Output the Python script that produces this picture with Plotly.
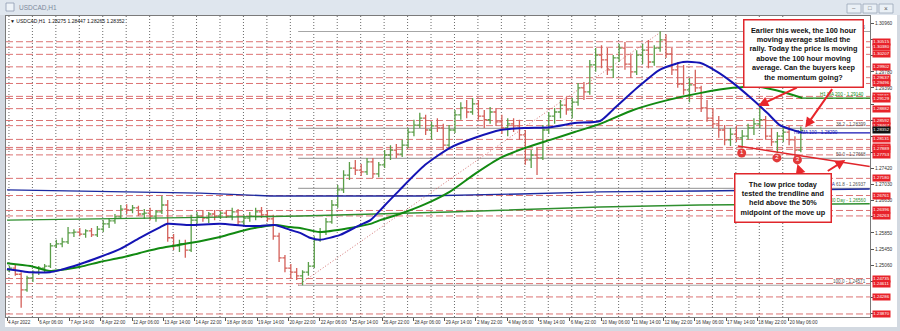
import plotly.graph_objects as go

# ---------------- DATA ----------------
# 6-hour OHLC blocks of USDCAD H1, block k covers H1 bars 6k..6k+5 (bar 0 = 4 Apr 22:00)
candle_open = [1.2494,1.2499,1.2484,1.2446,1.2475,1.2489,1.2499,1.2504,1.2553,1.2558,
 1.2563,1.2585,1.2587,1.2582,1.2590,1.2580,1.2594,1.2607,1.2614,1.2624,
 1.2643,1.2641,1.2646,1.2631,1.2633,1.2626,1.2636,1.2653,1.2573,1.2553,
 1.2558,1.2543,1.2616,1.2626,1.2621,1.2631,1.2626,1.2633,1.2626,1.2636,
 1.2612,1.2621,1.2626,1.2636,1.2629,1.2619,1.2577,1.2524,1.2499,1.2489,
 1.2480,1.2489,1.2504,1.2568,1.2587,1.2612,1.2653,1.2690,1.2726,1.2743,
 1.2738,1.2734,1.2758,1.2729,1.2751,1.2775,1.2787,1.2777,1.2799,1.2831,
 1.2848,1.2865,1.2836,1.2846,1.2841,1.2799,1.2836,1.2873,1.2890,1.2880,
 1.2900,1.2870,1.2861,1.2880,1.2856,1.2841,1.2851,1.2846,1.2824,1.2763,
 1.2775,1.2768,1.2836,1.2870,1.2880,1.2897,1.2885,1.2904,1.2939,1.2929,
 1.2995,1.3019,1.3007,1.2983,1.3012,1.3036,1.2997,1.2978,1.3019,1.3031,
 1.3002,1.3036,1.3056,1.3022,1.2983,1.2948,1.2934,1.2946,1.2939,1.2890,
 1.2865,1.2851,1.2836,1.2812,1.2826,1.2817,1.2821,1.2841,1.2851,1.2861,
 1.2821,1.2807,1.2821,1.2831,1.2812,1.2787]
candle_high = [1.2504,1.2507,1.2489,1.2480,1.2494,1.2504,1.2509,1.2560,1.2568,1.2573,
 1.2599,1.2594,1.2597,1.2594,1.2597,1.2602,1.2616,1.2621,1.2631,1.2653,
 1.2655,1.2653,1.2651,1.2643,1.2646,1.2641,1.2675,1.2665,1.2582,1.2568,
 1.2568,1.2629,1.2636,1.2641,1.2636,1.2641,1.2638,1.2641,1.2646,1.2643,
 1.2629,1.2636,1.2646,1.2648,1.2641,1.2629,1.2585,1.2531,1.2509,1.2499,
 1.2494,1.2514,1.2577,1.2597,1.2621,1.2665,1.2702,1.2738,1.2758,1.2763,
 1.2753,1.2768,1.2768,1.2758,1.2787,1.2799,1.2802,1.2812,1.2841,1.2861,
 1.2878,1.2873,1.2856,1.2865,1.2851,1.2848,1.2885,1.2904,1.2909,1.2914,
 1.2909,1.2885,1.2892,1.2890,1.2873,1.2865,1.2865,1.2861,1.2836,1.2787,
 1.2792,1.2848,1.2880,1.2890,1.2909,1.2916,1.2914,1.2951,1.2953,1.3007,
 1.3036,1.3043,1.3036,1.3019,1.3046,1.3051,1.3019,1.3031,1.3046,1.3056,
 1.3043,1.3077,1.3070,1.3036,1.3002,1.2995,1.2963,1.2983,1.2944,1.2909,
 1.2890,1.2870,1.2848,1.2841,1.2846,1.2836,1.2851,1.2865,1.2900,1.2870,
 1.2841,1.2831,1.2841,1.2846,1.2821,1.28447]
candle_low = [1.2489,1.2480,1.2402,1.2441,1.2465,1.2482,1.2489,1.2499,1.2548,1.2550,
 1.2558,1.2575,1.2577,1.2573,1.2575,1.2575,1.2587,1.2597,1.2607,1.2619,
 1.2631,1.2633,1.2626,1.2619,1.2616,1.2612,1.2631,1.2563,1.2543,1.2538,
 1.2524,1.2538,1.2607,1.2612,1.2609,1.2616,1.2619,1.2621,1.2616,1.2604,
 1.2602,1.2612,1.2616,1.2621,1.2612,1.2568,1.2514,1.2489,1.2475,1.2470,
 1.2457,1.2480,1.2499,1.2563,1.2580,1.2607,1.2646,1.2682,1.2714,1.2726,
 1.2724,1.2726,1.2719,1.2721,1.2743,1.2763,1.2768,1.2770,1.2792,1.2821,
 1.2841,1.2824,1.2812,1.2831,1.2787,1.2792,1.2829,1.2861,1.2865,1.2873,
 1.2861,1.2841,1.2851,1.2846,1.2826,1.2821,1.2831,1.2812,1.2751,1.2743,
 1.2726,1.2763,1.2826,1.2851,1.2865,1.2873,1.2865,1.2895,1.2909,1.2922,
 1.2978,1.2987,1.2970,1.2963,1.3002,1.2983,1.2963,1.2970,1.2997,1.2987,
 1.2993,1.3027,1.3012,1.2970,1.2939,1.2922,1.2904,1.2929,1.2880,1.2856,
 1.2841,1.2817,1.2799,1.2797,1.2807,1.2792,1.2812,1.2824,1.2841,1.2812,
 1.2797,1.2780,1.2807,1.2799,1.2770,1.2782]
candle_close = [1.2499,1.2484,1.2446,1.2475,1.2489,1.2499,1.2504,1.2553,1.2558,1.2563,
 1.2585,1.2587,1.2582,1.2590,1.2580,1.2594,1.2607,1.2614,1.2624,1.2643,
 1.2641,1.2646,1.2631,1.2633,1.2626,1.2636,1.2653,1.2573,1.2553,1.2558,
 1.2543,1.2616,1.2626,1.2621,1.2631,1.2626,1.2633,1.2626,1.2636,1.2612,
 1.2621,1.2626,1.2636,1.2629,1.2619,1.2577,1.2524,1.2499,1.2489,1.2480,
 1.2489,1.2504,1.2568,1.2587,1.2612,1.2653,1.2690,1.2726,1.2743,1.2738,
 1.2734,1.2758,1.2729,1.2751,1.2775,1.2787,1.2777,1.2799,1.2831,1.2848,
 1.2865,1.2836,1.2846,1.2841,1.2799,1.2836,1.2873,1.2890,1.2880,1.2900,
 1.2870,1.2861,1.2880,1.2856,1.2841,1.2851,1.2846,1.2824,1.2763,1.2775,
 1.2768,1.2836,1.2870,1.2880,1.2897,1.2885,1.2904,1.2939,1.2929,1.2995,
 1.3019,1.3007,1.2983,1.3012,1.3036,1.2997,1.2978,1.3019,1.3031,1.3002,
 1.3036,1.3056,1.3022,1.2983,1.2948,1.2934,1.2946,1.2939,1.2890,1.2865,
 1.2851,1.2836,1.2812,1.2826,1.2817,1.2821,1.2841,1.2851,1.2861,1.2821,
 1.2807,1.2821,1.2831,1.2812,1.2787,1.28352]
BLOCK_HOURS = 6

# 100-hour and 200-hour moving averages (H1 bar index, price)
ma100h_bar = [0,24,44,54,75,95,116,136,157,164,187,218,244,259,274,290,300,310,320,341,361,372,
              387,402,428,453,479,505,530,556,581,607,620,645,668,692,709,727,743,760,778,791,814]
ma100h = [1.2497,1.2489,1.2489,1.2494,1.2509,1.2526,1.2546,1.2573,1.2599,1.2607,1.2604,1.2607,
          1.2602,1.2602,1.2604,1.2592,1.2585,1.2573,1.2568,1.2580,1.2604,1.2616,1.2653,1.2690,
          1.2751,1.2792,1.2817,1.2836,1.2841,1.2843,1.2853,1.2858,1.2885,1.2939,1.2983,1.3002,
          1.3000,1.2978,1.2951,1.2917,1.2878,1.2848,1.2829]
ma200h_bar = [0,24,44,75,95,116,136,157,187,218,244,259,274,290,300,320,351,372,382,402,428,453,
              479,505,530,556,581,607,641,676,709,743,771,794,814]
ma200h = [1.2511,1.2504,1.2492,1.2502,1.2514,1.2524,1.2536,1.2548,1.2560,1.2575,1.2592,1.2599,
          1.2604,1.2599,1.2597,1.2587,1.2597,1.2607,1.2616,1.2631,1.2655,1.2685,1.2729,1.2768,
          1.2792,1.2812,1.2831,1.2851,1.2885,1.2909,1.2926,1.2939,1.2941,1.2929,1.2914]
# daily 100 / 200 day moving averages
ma100d_bar = [0, 49, 198, 269, 423, 525, 607, 709, 883]
ma100d = [1.2690, 1.2688, 1.2682, 1.2675, 1.2675, 1.2680, 1.2685, 1.2687, 1.2692]
ma200d_bar = [0, 146, 300, 453, 607, 709, 883]
ma200d = [1.2616, 1.2621, 1.2626, 1.2636, 1.2648, 1.2653, 1.2656]

# horizontal support / resistance levels (red dashed)
levels = [1.30515, 1.30380, 1.30207, 1.29902, 1.29637, 1.29496, 1.29181, 1.29129, 1.28882,
          1.28592, 1.28467, 1.28131, 1.27935, 1.27889, 1.27753, 1.27180, 1.26761, 1.26396,
          1.26263, 1.24735, 1.24611, 1.24286, 1.23870]
last_price = 1.28352

# Fibonacci retracement of the Apr 21 low -> May 12 high
fib_start_bar, fib_end_bar = 298, 670
fib_names = ["0.0", "38.2", "50.0", "61.8", "100.0"]
fib_prices = [1.30765, 1.28399, 1.27668, 1.26937, 1.24571]

# trend line under the recent lows and its three touches
trend_bar = [748, 883]
trend_price = [1.2797, 1.2747]
touch_bar = [752, 788, 809]
touch_price = [1.2780, 1.2768, 1.2763]
touch_text = ["1", "2", "3"]

# time axis labels every 32 H1 bars
time_labels = ["4 Apr 2022", "6 Apr 06:00", "7 Apr 14:00", "8 Apr 22:00", "12 Apr 06:00",
               "13 Apr 14:00", "14 Apr 22:00", "18 Apr 06:00", "19 Apr 14:00", "20 Apr 22:00",
               "22 Apr 06:00", "25 Apr 14:00", "26 Apr 22:00", "28 Apr 06:00", "29 Apr 14:00",
               "2 May 22:00", "4 May 06:00", "5 May 14:00", "6 May 22:00", "10 May 06:00",
               "11 May 14:00", "12 May 22:00", "16 May 06:00", "17 May 14:00", "18 May 22:00",
               "20 May 06:00"]
LABEL_STEP = 32
N_DAYS = 34          # trading days 5 Apr .. 20 May
FIRST_MIDNIGHT = 2   # bar index of 5 Apr 00:00

# price scale (labels hidden under the red level tags are left blank, as in the picture)
price_ticks = [1.30960, 1.30567, 1.30173, 1.29780, 1.29387, 1.28993, 1.28600, 1.28207, 1.27813,
               1.27420, 1.27027, 1.26633, 1.26240, 1.25847, 1.25453, 1.25060, 1.24667, 1.24273,
               1.23880]
price_tick_text = ["1.30960", "", "", "1.29780", "1.29390", "", "", "", "",
                   "1.27420", "1.27030", "1.26630", "", "1.25850",
                   "1.25450", "1.25060", "", "", ""]

note_top = ("Earlier this week, the 100 hour<br>moving average stalled the<br>"
            "rally. Today the price is moving<br>above the 100 hour moving<br>"
            "average. Can the buyers keep<br>the momentum going?")
note_bottom = ("The low price today<br>tested the trendline and<br>held above the 50%<br>"
               "midpoint of the move up")

# ---------------- LAYOUT GEOMETRY ----------------
W, H = 900, 331
ML, MR, MT, MB = 6, 30, 16, 14
PW, PH = W - ML - MR, H - MT - MB
def px(xp):
    return (xp - ML) / PW
def py(yp):
    return (H - MB - yp) / PH

X_RANGE = [-1.02, 883.3]
Y_RANGE = [1.23796, 1.31143]
FONT = "Liberation Sans"
UP, DN = "#5a9e48", "#d4605a"
RED = "#e0262b"
REDLINE = "rgba(214,90,90,0.85)"
FIBGRAY = "#a6a6a6"

fig = go.Figure()

candle_x = [BLOCK_HOURS * k + BLOCK_HOURS / 2 - 0.5 for k in range(len(candle_open))]
fig.add_trace(go.Ohlc(
    x=candle_x, open=candle_open, high=candle_high, low=candle_low, close=candle_close,
    increasing=dict(line=dict(color=UP, width=1.3)),
    decreasing=dict(line=dict(color=DN, width=1.3)),
    tickwidth=0.45, hoverinfo="skip", showlegend=False))

# daily moving averages
fig.add_trace(go.Scatter(x=ma100d_bar, y=ma100d, mode="lines", line=dict(color="#1c2aa0", width=1.4),
                         showlegend=False, hoverinfo="skip"))
fig.add_trace(go.Scatter(x=ma200d_bar, y=ma200d, mode="lines", line=dict(color="#2f8f2f", width=1.4),
                         showlegend=False, hoverinfo="skip"))
# hourly moving averages
fig.add_trace(go.Scatter(x=ma200h_bar, y=ma200h, mode="lines",
                         line=dict(color="#128a12", width=2, shape="spline", smoothing=0.6),
                         showlegend=False, hoverinfo="skip"))
fig.add_trace(go.Scatter(x=ma100h_bar, y=ma100h, mode="lines",
                         line=dict(color="#1414b4", width=2, shape="spline", smoothing=0.6),
                         showlegend=False, hoverinfo="skip"))
# horizontal extensions of the hourly MAs
fig.add_trace(go.Scatter(x=[ma100h_bar[-1], X_RANGE[1]], y=[ma100h[-1]] * 2, mode="lines",
                         line=dict(color="#1414b4", width=1.2), showlegend=False, hoverinfo="skip"))
fig.add_trace(go.Scatter(x=[ma200h_bar[-1], X_RANGE[1]], y=[ma200h[-1]] * 2, mode="lines",
                         line=dict(color="#128a12", width=1.2), showlegend=False, hoverinfo="skip"))
# trend line
fig.add_trace(go.Scatter(x=trend_bar, y=trend_price, mode="lines", line=dict(color=RED, width=1.6),
                         showlegend=False, hoverinfo="skip"))
# touch markers
fig.add_trace(go.Scatter(x=touch_bar, y=touch_price, mode="markers+text", text=touch_text,
                         textposition="middle center",
                         textfont=dict(family=FONT, size=6, color="white"),
                         marker=dict(size=9, color="#e23a3a", line=dict(color="#e23a3a", width=0)),
                         showlegend=False, hoverinfo="skip"))

shapes = []
# daily period separators
for i in range(N_DAYS):
    b = FIRST_MIDNIGHT + 24 * i
    shapes.append(dict(type="line", xref="x", yref="paper", x0=b, x1=b, y0=0, y1=1,
                       line=dict(color="#6a6a6a", width=1, dash="1px,2px"), layer="below"))
# red levels
for lv in levels:
    shapes.append(dict(type="line", xref="paper", yref="y", x0=0, x1=1, y0=lv, y1=lv,
                       line=dict(color=REDLINE, width=1, dash="7px,3px"), layer="below"))
# fibonacci lines
for fp in fib_prices:
    shapes.append(dict(type="line", xref="x", yref="y", x0=fib_start_bar, x1=X_RANGE[1],
                       y0=fp, y1=fp, line=dict(color=FIBGRAY, width=1.2), layer="below"))
shapes.append(dict(type="line", xref="x", yref="y", x0=fib_start_bar, x1=fib_end_bar,
                   y0=fib_prices[-1], y1=fib_prices[0],
                   line=dict(color="rgba(200,80,80,0.8)", width=1, dash="1px,2px"), layer="below"))

# ---- window frame (pixel placed) ----
def rect(x0, y0, x1, y1, fill, line=None, lw=0):
    return dict(type="rect", xref="paper", yref="paper", x0=px(x0), x1=px(x1), y0=py(y1), y1=py(y0),
                fillcolor=fill, line=dict(color=line or fill, width=lw), layer="above")
shapes.append(rect(0, 0, 900, 15, "#dfe6ee"))
shapes.append(rect(0, 15, 5, 331, "#d3d9e1"))
shapes.append(rect(897, 15, 900, 331, "#d3d9e1"))
shapes.append(rect(0, 327, 900, 331, "#d3d9e1"))
shapes.append(rect(6, 3, 14, 11, "#eef3f8", "#8d9bb0", 0.8))
for bx in (847, 863, 879):
    shapes.append(rect(bx, 4, bx + 14, 13, "#eaf0f6", "#9aa6b8", 0.8))

annotations = []
def ann(xp, yp, text, size=5, color="#222", xanchor="left", yanchor="middle", **kw):
    annotations.append(dict(xref="paper", yref="paper", x=px(xp), y=py(yp), text=text,
                            showarrow=False, xanchor=xanchor, yanchor=yanchor,
                            font=dict(family=FONT, size=size, color=color), **kw))

ann(17, 7.5, "USDCAD,H1", size=6.5, color="#7d8a9c")
ann(854, 8.5, "–", size=6, color="#555", xanchor="center")
ann(870, 8.5, "□", size=6, color="#555", xanchor="center")
ann(886, 8.5, "×", size=6.5, color="#555", xanchor="center")
ann(8, 21, "▼ USDCAD,H1  1.28275 1.28447 1.28265 1.28352", size=5, color="#111")

# line descriptions at the right end
def rtext(yval, text, color, dy=-3.5, xr=868):
    annotations.append(dict(xref="paper", yref="y", x=px(xr), y=yval, yshift=-dy, text=text,
                            showarrow=False, xanchor="right", yanchor="middle",
                            font=dict(family=FONT, size=4.6, color=color)))
for name, fp in zip(fib_names, fib_prices):
    if name == "61.8":
        rtext(fp, f"<span style='color:#1c2aa0'>MA</span> {name} - {fp:.5f}", "#555")
    else:
        rtext(fp, f"{name} - {fp:.5f}", "#555")
rtext(ma100h[-1], f"H1 MA 100 - {ma100h[-1]:.5f}", "#1414b4", dy=0, xr=840)
rtext(ma200h[-1], f"H1 MA 200 - {ma200h[-1]:.5f}", "#128a12", xr=866)
rtext(ma200d[-1], f"MA 200 Day - {ma200d[-1]:.5f}", "#2f8f2f", dy=-3.0)

# price-scale labels
for lv in levels:
    annotations.append(dict(xref="paper", yref="y", x=px(872), y=lv, text=f"{lv:.5f}",
                            showarrow=False, xanchor="left", yanchor="middle", bgcolor="#e8232a",
                            borderpad=0.3, font=dict(family=FONT, size=4.4, color="white")))
annotations.append(dict(xref="paper", yref="y", x=px(872), y=last_price, text=f"{last_price:.5f}",
                        showarrow=False, xanchor="left", yanchor="middle", bgcolor="#111111",
                        borderpad=0.3, font=dict(family=FONT, size=4.4, color="white")))

# arrows
def arrow(xb, yv, ax, ay):
    annotations.append(dict(xref="x", yref="y", x=xb, y=yv, ax=ax, ay=ay, text="",
                            showarrow=True, arrowhead=2, arrowsize=1, arrowwidth=2,
                            arrowcolor="#e8262b"))
arrow(769, 1.2895, 40, -19)
arrow(817, 1.2842, 28, -40)
arrow(809, 1.2753, 3, 9)
arrow(858, 1.2763, -19, 12)

# note boxes
annotations.append(dict(xref="paper", yref="paper", x=px(803.5), y=py(53), text=f"<b>{note_top}</b>",
                        showarrow=False, xanchor="center", yanchor="middle", align="center",
                        bgcolor="white", bordercolor=RED, borderwidth=1.5, borderpad=5,
                        font=dict(family=FONT, size=7.3, color="#111")))
annotations.append(dict(xref="paper", yref="paper", x=px(782.5), y=py(197.5), text=f"<b>{note_bottom}</b>",
                        showarrow=False, xanchor="center", yanchor="middle", align="center",
                        bgcolor="white", bordercolor=RED, borderwidth=1.5, borderpad=5,
                        font=dict(family=FONT, size=7.3, color="#111")))

tick_bars = [LABEL_STEP * i for i in range(len(time_labels))]

fig.update_layout(
    width=W, height=H, margin=dict(l=ML, r=MR, t=MT, b=MB, pad=0),
    paper_bgcolor="white", plot_bgcolor="white",
    shapes=shapes, annotations=annotations, showlegend=False,
    xaxis=dict(range=X_RANGE, showgrid=False, zeroline=False, rangeslider=dict(visible=False),
               tickmode="array", tickvals=tick_bars, ticktext=time_labels, tickangle=0,
               ticks="outside", ticklen=3, tickcolor="#555", ticklabelposition="outside right",
               tickfont=dict(family=FONT, size=4.6, color="#333"),
               showline=True, linecolor="#7a7a7a", linewidth=1, mirror=True, fixedrange=True),
    yaxis=dict(range=Y_RANGE, side="right", showgrid=False, zeroline=False,
               tickmode="array", tickvals=price_ticks, ticktext=price_tick_text,
               ticks="outside", ticklen=3, tickcolor="#555",
               tickfont=dict(family=FONT, size=4.8, color="#333"),
               showline=True, linecolor="#7a7a7a", linewidth=1, mirror=True, fixedrange=True),
)

fig.write_html("out.html")
